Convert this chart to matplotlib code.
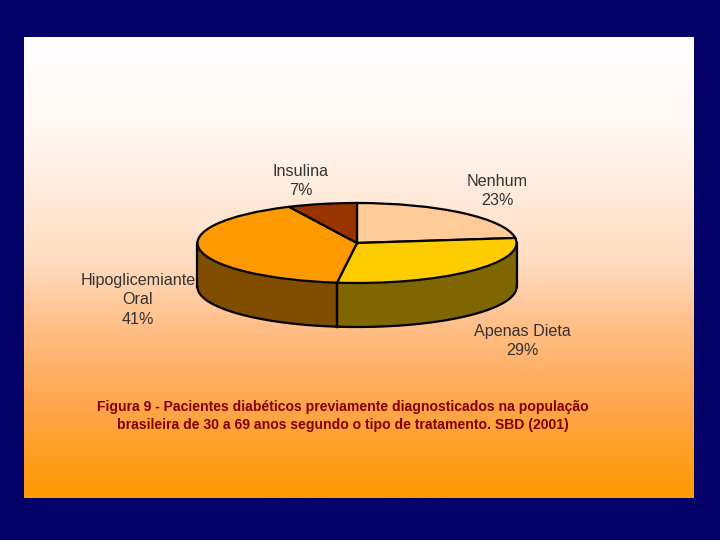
import matplotlib
matplotlib.use('Agg')
import numpy as np
import matplotlib.pyplot as plt
from matplotlib.colors import LinearSegmentedColormap

plt.rcParams['font.family'] = ['Liberation Sans', 'DejaVu Sans']

labels = ['Nenhum\n23%', 'Apenas Dieta\n29%', 'Hipoglicemiante\nOral\n41%', 'Insulina\n7%']
shares = [23, 29, 41, 7]
top_colors = ['#FFCC99', '#FFCC00', '#FF9900', '#993300']
side_colors = ['#806633', '#806600', '#804D00', '#4D1A00']
label_pos = [(497, 191), (522, 341), (138, 300), (301, 181)]
caption = ('Figura 9 - Pacientes diabéticos previamente diagnosticados na população\n'
           'brasileira de 30 a 69 anos segundo o tipo de tratamento. SBD (2001)')
panel_stops = [(0, '#FFFFFF'), (0.22, '#FFF6F0'), (0.49, '#FFDCC0'), (0.62, '#FFC08A'),
               (0.8, '#FFA64D'), (1, '#FF9900')]

W, H = 720, 540
cx, cy, rx, ry, depth = 357, 243, 159.5, 40, 44

fig = plt.figure(figsize=(7.2, 5.4), dpi=100, facecolor='#000066')

# panel with the white -> orange gradient
bg = fig.add_axes([24 / W, 1 - 498 / H, 670 / W, 461 / H])
bg.axis('off')
cmap = LinearSegmentedColormap.from_list('panel', panel_stops)
bg.imshow(np.linspace(0, 1, 256).reshape(-1, 1), cmap=cmap, aspect='auto')

# axes over the whole figure, 1 unit = one radius of the squashed pie
ax = fig.add_axes([0, 0, 1, 1])
ax.patch.set_alpha(0)
wedges, _ = ax.pie(shares, colors=top_colors, startangle=90, counterclock=False, radius=1,
                   wedgeprops=dict(edgecolor='black', linewidth=1.6))
for w in wedges:
    w.set_zorder(5)
ax.set_aspect('auto')
ax.set_xlim(-cx / rx, (W - cx) / rx)
ax.set_ylim(-(H - cy) / ry, cy / ry)
ax.axis('off')

# front wall of the pie, only the slices facing the viewer
d = depth / ry
ends = np.cumsum(shares) / sum(shares) * 2 * np.pi
starts = ends - np.array(shares) / sum(shares) * 2 * np.pi
for a, b, c in zip(starts, ends, side_colors):
    lo, hi = max(a, np.pi / 2), min(b, 3 * np.pi / 2)
    if lo >= hi:
        continue
    t = np.linspace(lo, hi, 80)
    x, y = np.sin(t), np.cos(t)
    ax.fill_between(x, y, y - d, color=c, zorder=2, linewidth=0)
    ax.plot(x, y - d, color='black', lw=1.6, zorder=3)
    ax.plot([x[0], x[0]], [y[0], y[0] - d], color='black', lw=1.6, zorder=3)
    ax.plot([x[-1], x[-1]], [y[-1], y[-1] - d], color='black', lw=1.6, zorder=3)

for lab, (px, py) in zip(labels, label_pos):
    fig.text(px / W, 1 - py / H, lab, ha='center', va='center', fontsize=11.6, color='#333333',
             linespacing=1.4, zorder=10)

fig.text(343 / W, 1 - 416 / H, caption, ha='center', va='center', fontsize=10.05, fontweight='bold',
         color='#800000', linespacing=1.4, zorder=10)

fig.savefig('out.png', dpi=100, facecolor=fig.get_facecolor())
